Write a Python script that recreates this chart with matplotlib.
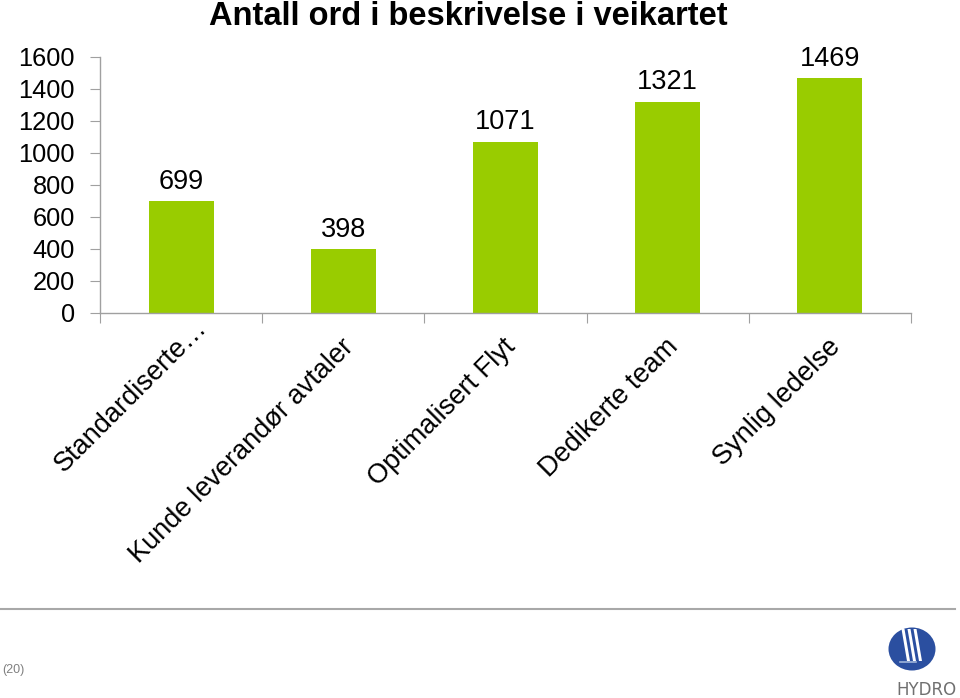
import matplotlib
matplotlib.use("Agg")
import matplotlib.pyplot as plt
from matplotlib.patches import Ellipse, Polygon
from matplotlib.lines import Line2D

plt.rcParams['font.family'] = ['Liberation Sans', 'DejaVu Sans']

categories = ["Standardiserte…", "Kunde leverandør avtaler", "Optimalisert Flyt",
              "Dedikerte team", "Synlig ledelse"]
values = [699, 398, 1071, 1321, 1469]
yticks = [0, 200, 400, 600, 800, 1000, 1200, 1400, 1600]
title = "Antall ord i beskrivelse i veikartet"

fig = plt.figure(figsize=(9.6, 6.98), dpi=100)
ax = fig.add_axes([100/960, 1-313/698, 811/960, 256/698])

x = list(range(len(categories)))
ax.bar(x, values, width=0.4, color="#99CC00")
ax.set_xlim(-0.5, len(categories) - 0.5)
ax.set_ylim(0, 1600)
ax.set_yticks(yticks)
ax.set_yticklabels([str(v) for v in yticks], fontsize=18.3)
ax.set_xticks([i - 0.5 for i in range(len(categories) + 1)])
ax.set_xticklabels([])
ax.tick_params(axis='y', length=7, color="#A0A0A0", pad=11)
ax.tick_params(axis='x', length=7, color="#A0A0A0", direction='out')
for s in ['top', 'right']:
    ax.spines[s].set_visible(False)
for s in ['left', 'bottom']:
    ax.spines[s].set_color("#A0A0A0")
    ax.spines[s].set_linewidth(1)

for xi, v in zip(x, values):
    ax.text(xi, v + 40, str(v), ha='center', va='bottom', fontsize=19.5)

# per-label offsets (points) for the rotated category labels
label_offsets = [(9, -1), (-2, -15), (-2, -15), (-2, -15), (-2, -15)]
for xi, lab, off in zip(x, categories, label_offsets):
    ax.annotate(lab, xy=(xi, 0), xycoords='data', xytext=off,
                textcoords='offset points', rotation=45, ha='right', va='top',
                rotation_mode='anchor', fontsize=19.5)

fig.text(468/960, 1-25/698, title, ha='center', va='baseline', fontsize=23.5, fontweight='bold')

# footer line
fig.add_artist(Line2D([0, 955/960], [1-609/698, 1-609/698], color="#A8A8A8", lw=1.5))
fig.text(2/960, 1-670/698, "(20)", ha='left', va='center', fontsize=9, color="#808080")

# logo
cx, cy = 912/960, 1-649/698
fig.add_artist(Ellipse((cx, cy), 47/960, 43/698, transform=fig.transFigure,
                       facecolor="#2B4FA0", edgecolor='none'))
for dx in [-9, -3, 3]:
    fig.add_artist(Polygon([((cx*960 + dx - 1.5)/960, (cy*698 + 20)/698),
                            ((cx*960 + dx + 1.5)/960, (cy*698 + 20)/698),
                            ((cx*960 + dx + 7)/960, (cy*698 - 12)/698),
                            ((cx*960 + dx + 4)/960, (cy*698 - 12)/698)],
                           closed=True, transform=fig.transFigure,
                           facecolor='white', edgecolor='none'))
fig.add_artist(Line2D([(cx*960 - 12)/960, (cx*960 + 4)/960],
                      [(cy*698 - 13)/698, (cy*698 - 13)/698],
                      color='#9FB4DA', lw=1.2))
fig.text(957/960, 1-690/698, "HYDRO", ha='right', va='center', fontsize=12,
         color="#707070", family=['Liberation Sans Narrow', 'DejaVu Sans'])

fig.savefig("out.png", dpi=100)
